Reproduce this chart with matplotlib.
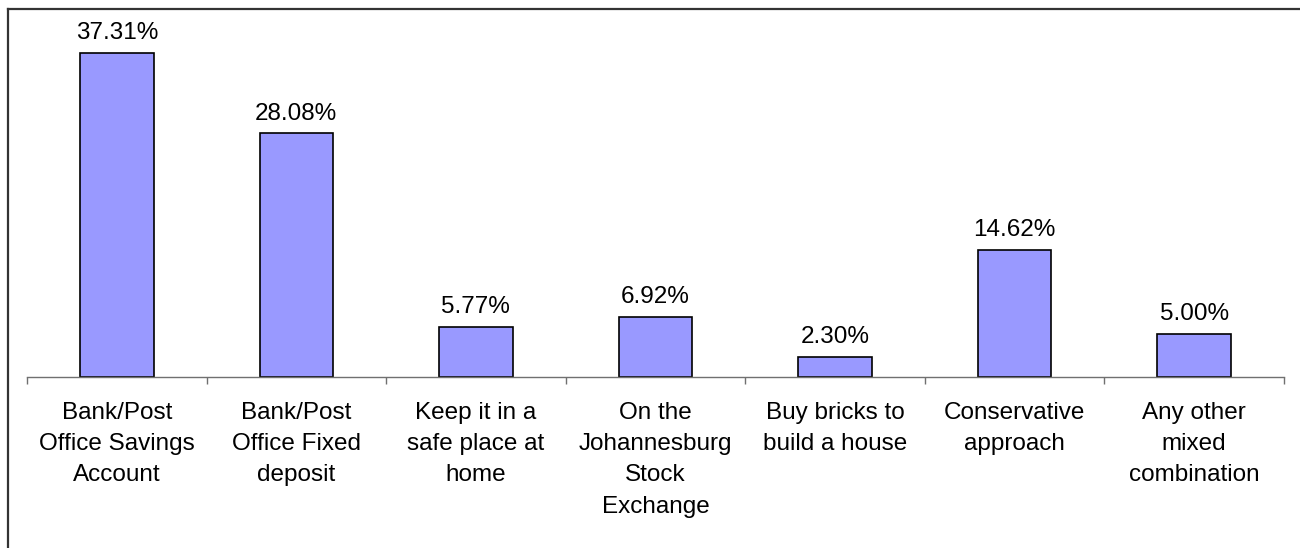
import matplotlib.pyplot as plt
import numpy as np
from matplotlib.lines import Line2D

plt.rcParams['font.family'] = ['Liberation Sans', 'DejaVu Sans']

categories = ['Bank/Post\nOffice Savings\nAccount',
              'Bank/Post\nOffice Fixed\ndeposit',
              'Keep it in a\nsafe place at\nhome',
              'On the\nJohannesburg\nStock\nExchange',
              'Buy bricks to\nbuild a house',
              'Conservative\napproach',
              'Any other\nmixed\ncombination']
values = [37.31, 28.08, 5.77, 6.92, 2.30, 14.62, 5.00]

fig = plt.figure(figsize=(13, 5.48), dpi=100)
ax = fig.add_axes([27 / 1300, 1 - 377 / 548, 1257 / 1300, 347 / 548])

x = np.arange(len(values))
bars = ax.bar(x, values, width=0.41, color='#9999FF', edgecolor='black', linewidth=1.2)

for b, v in zip(bars, values):
    ax.annotate(f'{v:.2f}%', (b.get_x() + b.get_width() / 2, v),
                xytext=(0, 10), textcoords='offset points',
                ha='center', va='baseline', fontsize=17.5, clip_on=False)

ax.set_xlim(-0.5, len(values) - 0.5)
ax.set_ylim(0, 40)

# boundary ticks without labels, category names on invisible minor ticks
ax.set_xticks(np.arange(len(values) + 1) - 0.5)
ax.set_xticklabels([])
ax.set_xticks(x, minor=True)
ax.set_xticklabels(categories, minor=True, fontsize=17.5, linespacing=1.54)
ax.tick_params(axis='x', which='major', direction='out', length=5, width=1, color='#707070')
ax.tick_params(axis='x', which='minor', length=0, pad=18)
ax.set_yticks([])

for s in ['top', 'right', 'left']:
    ax.spines[s].set_visible(False)
ax.spines['bottom'].set_color('#707070')
ax.spines['bottom'].set_linewidth(1)

# outer frame lines (top and left)
fig.add_artist(Line2D([7.5 / 1300, 1.0], [1 - 8.5 / 548] * 2, color='#333333', lw=1.6))
fig.add_artist(Line2D([7.5 / 1300] * 2, [0.0, 1 - 8.5 / 548], color='#333333', lw=1.6))

fig.savefig('out.png', dpi=100)
